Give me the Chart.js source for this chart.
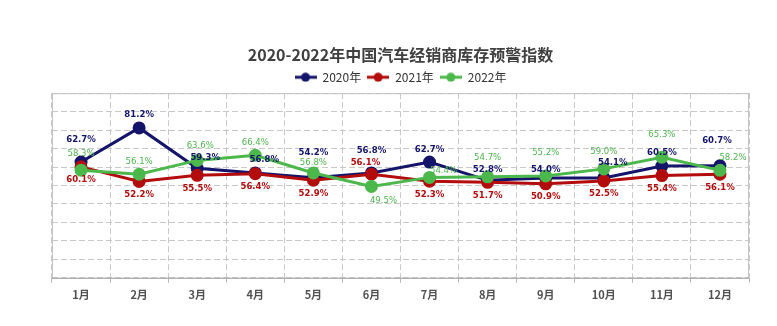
<!DOCTYPE html>
<html>
<head>
<meta charset="utf-8">
<title>2020-2022年中国汽车经销商库存预警指数</title>
<script src="https://cdn.jsdelivr.net/npm/chart.js@4.4.0/dist/chart.umd.min.js"></script>
<style>
  html, body { margin: 0; padding: 0; background: #fff; }
  #box { width: 777px; height: 326px; }
</style>
</head>
<body>
<div id="box"><canvas id="stockChart"></canvas></div>
<script>
// 月份
const months = ['1月', '2月', '3月', '4月', '5月', '6月', '7月', '8月', '9月', '10月', '11月', '12月'];

// 库存预警指数（%）
const index2020 = [62.7, 81.2, 59.3, 56.8, 54.2, 56.8, 62.7, 52.8, 54.0, 54.1, 60.5, 60.7];
const index2021 = [60.1, 52.2, 55.5, 56.4, 52.9, 56.1, 52.3, 51.7, 50.9, 52.5, 55.4, 56.1];
const index2022 = [58.3, 56.1, 63.6, 66.4, 56.8, 49.5, 54.4, 54.7, 55.2, 59.0, 65.3, 58.2];

const seriesNames = ['2020年', '2021年', '2022年'];
const lineColors = ['#14146b', '#b30c0c', '#4cb84c'];
const textColors = ['#14146b', '#b30c0c', '#4fb54f'];

// 数值标签默认偏移：2020、2022 在点上方，2021 在点下方
const labelDy = [-13, 13, -13];
// 个别标签避让
const labelNudge = {
  '0-0': [0, -23], '0-2': [8, -11], '0-3': [9, -13], '0-4': [0, -25], '0-5': [0, -22],
  '0-7': [0, -11], '0-8': [0, -9], '0-9': [9, -15], '0-10': [0, -14], '0-11': [-3, -25],
  '1-5': [-6, -12],
  '2-0': [0, -17], '2-2': [3, -15], '2-4': [0, -10], '2-5': [12, 14], '2-6': [14, -7],
  '2-7': [0, -19], '2-8': [0, -23], '2-9': [0, -17], '2-10': [0, -23], '2-11': [13, -13]
};

// 图例标记：短线 + 圆点
function legendMarker(color) {
  const c = document.createElement('canvas');
  c.width = 22;
  c.height = 10;
  const g = c.getContext('2d');
  g.strokeStyle = color;
  g.lineWidth = 3;
  g.beginPath();
  g.moveTo(0, 5);
  g.lineTo(22, 5);
  g.stroke();
  g.fillStyle = color;
  g.beginPath();
  g.arc(11, 5, 4.5, 0, Math.PI * 2);
  g.fill();
  return c;
}

// 绘图区外框
const frame = {
  id: 'frame',
  beforeDatasetsDraw(chart) {
    const { ctx, chartArea: a } = chart;
    ctx.save();
    ctx.strokeStyle = '#c4c4c4';
    ctx.lineWidth = 1;
    ctx.strokeRect(a.left + 0.5, a.top + 0.5, a.right - a.left - 1, a.bottom - a.top);
    ctx.strokeStyle = '#a8a8a8';
    ctx.beginPath();
    ctx.moveTo(a.left, a.bottom + 0.5);
    ctx.lineTo(a.right, a.bottom + 0.5);
    ctx.stroke();
    ctx.restore();
  }
};

// 数值标签
const valueLabels = {
  id: 'valueLabels',
  afterDatasetsDraw(chart) {
    const ctx = chart.ctx;
    ctx.save();
    ctx.textAlign = 'center';
    ctx.textBaseline = 'middle';
    chart.data.datasets.forEach((ds, di) => {
      const meta = chart.getDatasetMeta(di);
      ctx.fillStyle = textColors[di];
      ctx.font = (di === 2 ? '' : 'bold ') + '9.5px "Liberation Sans Narrow", "DejaVu Sans Condensed", sans-serif';
      meta.data.forEach((pt, i) => {
        const n = labelNudge[di + '-' + i] || [0, labelDy[di]];
        ctx.fillText(ds.data[i].toFixed(1) + '%', pt.x + n[0], pt.y + n[1]);
      });
    });
    ctx.restore();
  }
};

const allSeries = [index2020, index2021, index2022];

new Chart(document.getElementById('stockChart'), {
  type: 'line',
  data: {
    labels: months,
    datasets: allSeries.map((values, i) => ({
      label: seriesNames[i],
      data: values,
      borderColor: lineColors[i],
      backgroundColor: lineColors[i],
      pointBackgroundColor: lineColors[i],
      pointBorderColor: lineColors[i],
      pointRadius: 5,
      pointStyle: 'circle',
      borderWidth: 3,
      tension: 0,
      order: 3 - i
    }))
  },
  options: {
    responsive: true,
    maintainAspectRatio: false,
    animation: false,
    layout: { padding: { top: 35, left: 52, right: 28, bottom: 20 } },
    plugins: {
      title: {
        display: true,
        text: '2020-2022年中国汽车经销商库存预警指数',
        color: '#404040',
        font: { family: '"Noto Sans CJK SC", sans-serif', size: 16, weight: 'bold' },
        padding: { top: 10, bottom: 1 }
      },
      legend: {
        display: true,
        labels: {
          usePointStyle: true,
          pointStyleWidth: 22,
          boxHeight: 10,
          color: '#333',
          padding: 6,
          font: { family: '"Noto Sans CJK SC", sans-serif', size: 12 },
          generateLabels: chart => Chart.defaults.plugins.legend.labels.generateLabels(chart)
            .map(item => ({ ...item, pointStyle: legendMarker(lineColors[item.datasetIndex]) }))
            .sort((a, b) => a.datasetIndex - b.datasetIndex)
        }
      },
      tooltip: { enabled: false }
    },
    scales: {
      x: {
        offset: true,
        border: { display: false, dash: [6, 3] },
        grid: {
          offset: true,
          color: '#c8c8c8',
          tickColor: '#b8b8b8',
          tickLength: 5,
          tickBorderDash: [],
          drawTicks: true
        },
        ticks: {
          padding: 5,
          color: '#505050',
          font: { family: '"Noto Sans CJK SC", sans-serif', size: 11, weight: 'bold' }
        }
      },
      y: {
        min: 0,
        max: 100,
        border: { display: false, dash: [6, 3] },
        grid: { color: '#c8c8c8', drawTicks: false },
        ticks: { display: false, stepSize: 10 }
      }
    }
  },
  plugins: [frame, valueLabels]
});
</script>
</body>
</html>
